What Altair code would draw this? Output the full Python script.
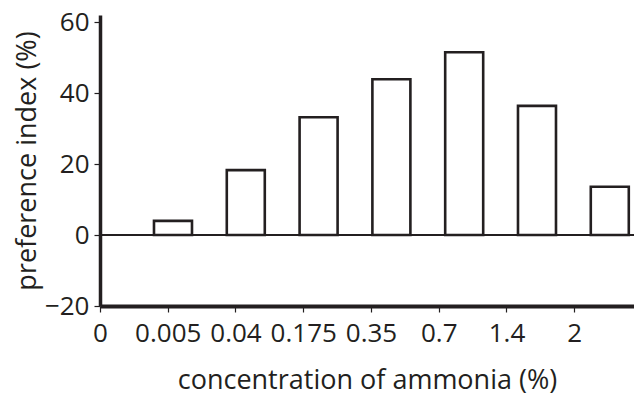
import altair as alt
import pandas as pd

# ---- data ----
concentrations = ["0.005", "0.04", "0.175", "0.35", "0.7", "1.4", "2"]
preference = [4.0, 18.3, 33.2, 43.9, 51.5, 36.4, 13.6]
tick_labels = ["0", "0.005", "0.04", "0.175", "0.35", "0.7", "1.4", "2"]
y_ticks = [-20, 0, 20, 40, 60]

bars_df = pd.DataFrame({"conc": concentrations, "pref": preference})
ticks_df = pd.DataFrame({"label": tick_labels})
zero_df = pd.DataFrame({"y": [0]})

INK = "#231f20"
FONT = "Open Sans"

yscale = alt.Scale(domain=[-20, 62], nice=False)

zero_line = alt.Chart(zero_df).mark_rule(color=INK, strokeWidth=2).encode(
    y=alt.Y(
        "y:Q",
        scale=yscale,
        axis=alt.Axis(
            title="preference index (%)",
            values=y_ticks,
            grid=False,
            domainColor=INK,
            domainWidth=3.5,
            tickColor=INK,
            tickWidth=1.2,
            tickSize=6,
            labelFont=FONT,
            labelFontSize=26,
            labelColor=INK,
            labelPadding=5,
            titleFont=FONT,
            titleFontSize=27,
            titleFontWeight="normal",
            titleColor=INK,
            titlePadding=3,
        ),
    )
)

bars = alt.Chart(bars_df).mark_bar(fill="white", stroke=INK, strokeWidth=2.6).encode(
    x=alt.X(
        "conc:N",
        sort=concentrations,
        axis=None,
        scale=alt.Scale(paddingInner=0.478, paddingOuter=0.4066, align=0.912),
    ),
    y=alt.Y("pref:Q", scale=yscale),
    y2=alt.datum(0),
)

axis_layer = alt.Chart(ticks_df).mark_point(opacity=0).encode(
    x=alt.X(
        "label:N",
        sort=tick_labels,
        scale=alt.Scale(type="point", padding=0.441, align=0),
        axis=alt.Axis(
            title="concentration of ammonia (%)",
            labelAngle=0,
            domainColor=INK,
            domainWidth=4,
            tickColor=INK,
            tickWidth=1.2,
            tickSize=6,
            labelFont=FONT,
            labelFontSize=26,
            labelColor=INK,
            labelPadding=8,
            titleFont=FONT,
            titleFontSize=27,
            titleFontWeight="normal",
            titleColor=INK,
            titlePadding=21,
        ),
    )
)

chart = (
    alt.layer(zero_line, bars, axis_layer)
    .resolve_scale(x="independent")
    .properties(
        width=534,
        height=291,
        autosize=alt.AutoSizeParams(type="none"),
        padding={"left": 92, "top": 7, "right": 0, "bottom": 89},
        background="white",
    )
    .configure_view(stroke=None)
)

chart.save("out.html", embed_options={"renderer": "svg", "actions": False})
